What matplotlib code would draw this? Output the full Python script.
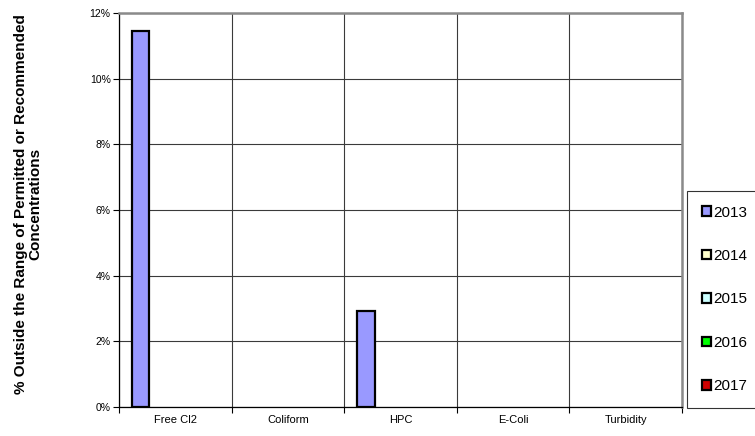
import numpy as np
import matplotlib
matplotlib.use("Agg")
import matplotlib.pyplot as plt
from matplotlib.patches import Patch
from matplotlib.ticker import FuncFormatter

plt.rcParams['font.family'] = ['Liberation Sans', 'DejaVu Sans']

categories = ["Free Cl2", "Coliform", "HPC", "E-Coli", "Turbidity"]
years = ["2013", "2014", "2015", "2016", "2017"]
colors = ["#9999FF", "#FFFFCC", "#CCFFFF", "#00FF00", "#CC0000"]
# percent outside range, per year, per category
v2013 = [11.45, 0.0, 2.93, 0.0, 0.0]
v2014 = [0.0, 0.0, 0.0, 0.0, 0.0]
v2015 = [0.0, 0.0, 0.0, 0.0, 0.0]
v2016 = [0.0, 0.0, 0.0, 0.0, 0.0]
v2017 = [0.0, 0.0, 0.0, 0.0, 0.0]
values = [v2013, v2014, v2015, v2016, v2017]

fig = plt.figure(figsize=(7.55, 4.36), dpi=100)
ax = fig.add_axes([119/755, 29/436, 563/755, 394/436])

x = np.arange(len(categories))
bw = 1/6.5
for i, (yr, vals, c) in enumerate(zip(years, values, colors)):
    pos = x - 0.5 + (0.75 + 0.5 + i)*bw
    lws = [1.6 if v > 0 else 0 for v in vals]
    ax.bar(pos, vals, width=bw, color=c, edgecolor='black', linewidth=lws, zorder=3)

ax.set_xlim(-0.5, len(categories) - 0.5)
ax.set_ylim(0, 12)
ax.set_yticks(np.arange(0, 13, 2))
ax.yaxis.set_major_formatter(FuncFormatter(lambda v, p: "%d%%" % v))
ax.tick_params(axis='y', labelsize=7.5, length=4, width=0.8, direction='out', pad=2)

ax.set_xticks(x)
ax.set_xticklabels(categories, fontsize=8)
ax.tick_params(axis='x', which='major', length=0, pad=6)
ax.set_xticks(np.arange(-0.5, len(categories)), minor=True)
ax.tick_params(axis='x', which='minor', length=4, width=0.8, direction='out')

ax.grid(True, axis='y', which='major', color='#3a3a3a', linewidth=0.8, zorder=0)
ax.grid(True, axis='x', which='minor', color='#3a3a3a', linewidth=0.8, zorder=0)
ax.set_axisbelow(True)

for s in ['left', 'bottom']:
    ax.spines[s].set_color('black')
    ax.spines[s].set_linewidth(0.9)
for s in ['top', 'right']:
    ax.spines[s].set_color('#8a8a8a')
    ax.spines[s].set_linewidth(1.8)

fig.text(0.037, 0.532, "% Outside the Range of Permitted or Recommended\nConcentrations",
         rotation=90, ha='center', va='center', fontsize=11, fontweight='bold',
         multialignment='center', linespacing=1.0)

handles = [Patch(facecolor=c, edgecolor='black', linewidth=1.6) for c in colors]
leg = fig.legend(handles, years, loc='upper left', bbox_to_anchor=(687/755, 1 - 191/436),
                 fontsize=11, frameon=True, fancybox=False, edgecolor='black',
                 handlelength=0.6, handleheight=0.6, handletextpad=0.2,
                 labelspacing=1.93, borderpad=0.95, borderaxespad=0)
leg.get_frame().set_linewidth(0.8)

plt.savefig("out.png", dpi=100)
